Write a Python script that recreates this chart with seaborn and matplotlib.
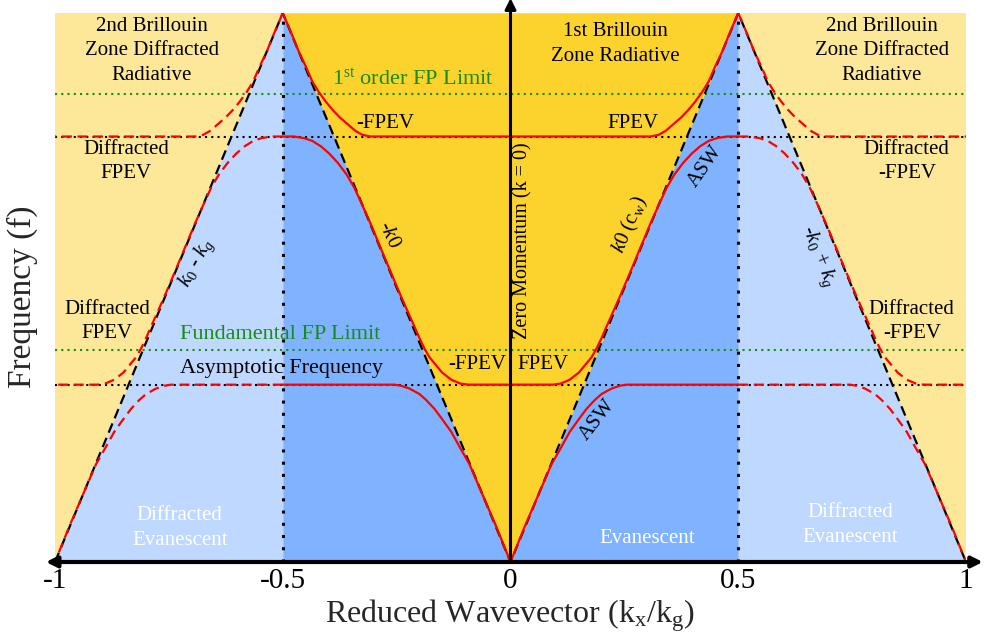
import numpy as np
import matplotlib
matplotlib.use("Agg")
import matplotlib.pyplot as plt
import seaborn as sns

# ---------------- data ----------------
zone_x = [-1.0, -0.5, 0.0, 0.5, 1.0]          # zone boundaries / light-line vertices
light_line_f = [0.0, 1.0, 0.0, 1.0, 0.0]      # light lines k0, -k0, k0-kg, -k0+kg

asymptotic_f = 0.323       # Asymptotic Frequency
fpev_upper_f = 0.775       # upper FPEV level
fundamental_fp_f = 0.387   # Fundamental FP Limit
first_order_fp_f = 0.852   # 1st order FP Limit

# bands in the half first Brillouin zone (0 <= k <= 0.5)
band1_x = [0.0, 0.031, 0.075, 0.09, 0.112, 0.13, 0.149, 0.167, 0.185, 0.2, 0.222, 0.24, 0.255, 0.5]
band1_f = [0.0, 0.064, 0.149, 0.178, 0.210, 0.237, 0.259, 0.279, 0.295, 0.306, 0.316, 0.321, 0.323, 0.323]

band2_x = [0.0, 0.093, 0.11, 0.13, 0.15, 0.167, 0.178, 0.189, 0.2, 0.211, 0.24, 0.27, 0.306,
           0.328, 0.343, 0.36, 0.379, 0.398, 0.416, 0.435, 0.453, 0.475, 0.5]
band2_f = [0.323, 0.323, 0.325, 0.332, 0.345, 0.362, 0.373, 0.389, 0.408, 0.429, 0.483, 0.542, 0.614,
           0.655, 0.682, 0.706, 0.727, 0.744, 0.757, 0.767, 0.772, 0.775, 0.775]

band3_x = [0.0, 0.307, 0.325, 0.34, 0.35, 0.361, 0.375, 0.39, 0.405, 0.42, 0.435, 0.449, 0.465, 0.478, 0.5]
band3_f = [0.775, 0.775, 0.778, 0.785, 0.792, 0.800, 0.810, 0.823, 0.838, 0.855, 0.875, 0.902, 0.930, 0.957, 1.0]

tick_values = [-1, -0.5, 0, 0.5, 1]
tick_labels = ["-1", "-0.5", "0", "0.5", "1"]

# ---------------- style ----------------
sns.set_theme(style="white")
plt.rcParams["font.family"] = ["Liberation Serif", "DejaVu Serif"]
plt.rcParams["mathtext.fontset"] = "custom"
plt.rcParams["mathtext.rm"] = "Liberation Serif"
plt.rcParams["mathtext.it"] = "Liberation Serif:italic"
plt.rcParams["mathtext.bf"] = "Liberation Serif:bold"

LIGHT_YELLOW = "#FDE799"
DARK_YELLOW = "#FCD22D"
DARK_BLUE = "#80B3FF"
LIGHT_BLUE = "#BFD8FF"
GREEN = "#178C17"
RED = "#FF0000"

fig = plt.figure(figsize=(9.85, 6.37), dpi=100)
ax = fig.add_axes([55 / 985, 75 / 637, 911 / 985, 549 / 637])
ax.set_xlim(-1, 1)
ax.set_ylim(0, 1)
for s in ax.spines.values():
    s.set_visible(False)
ax.set_yticks([])

# ---------------- regions ----------------
ax.fill_between([zone_x[0], zone_x[-1]], 0, 1, color=LIGHT_YELLOW, lw=0, zorder=0)
ax.fill_between(zone_x[1:4], light_line_f[1:4], 1, color=DARK_YELLOW, lw=0, zorder=1)
ax.fill_between(zone_x[1:4], 0, light_line_f[1:4], color=DARK_BLUE, lw=0, zorder=1)
ax.fill_between(zone_x[0:2], 0, light_line_f[0:2], color=LIGHT_BLUE, lw=0, zorder=1)
ax.fill_between(zone_x[3:5], 0, light_line_f[3:5], color=LIGHT_BLUE, lw=0, zorder=1)

# ---------------- guide lines ----------------
for lvl in (asymptotic_f, fpev_upper_f):
    ax.plot([zone_x[0], zone_x[-1]], [lvl, lvl], color="black", lw=1.5,
            linestyle=(0, (1, 2)), zorder=2)
for lvl in (fundamental_fp_f, first_order_fp_f):
    ax.plot([zone_x[0], zone_x[-1]], [lvl, lvl], color=GREEN, lw=1.5,
            linestyle=(0, (1, 2)), zorder=2)
for xv in (zone_x[1], zone_x[3]):
    ax.plot([xv, xv], [0, 1], color="black", lw=2.2, linestyle=(0, (1, 3)), zorder=2)

sns.lineplot(x=zone_x, y=light_line_f, sort=False, estimator=None, color="black",
             lw=1.6, linestyle=(0, (4.5, 2.5)), ax=ax, zorder=3)

# ---------------- bands (unfolded by symmetry) ----------------
def unfold(xs, fs):
    xs = np.asarray(xs, float)
    fs = np.asarray(fs, float)
    inner_x = np.concatenate([-xs[::-1], xs[1:]])
    inner_f = np.concatenate([fs[::-1], fs[1:]])
    right_x = 1.0 - xs[::-1]
    right_f = fs[::-1]
    return inner_x, inner_f, right_x, right_f

for bx, bf in ((band1_x, band1_f), (band2_x, band2_f), (band3_x, band3_f)):
    ix, iff, rx, rf = unfold(bx, bf)
    sns.lineplot(x=ix, y=iff, sort=False, estimator=None, color=RED, lw=1.6, ax=ax, zorder=4)
    sns.lineplot(x=rx, y=rf, sort=False, estimator=None, color=RED, lw=1.6,
                 linestyle=(0, (4.5, 2.5)), ax=ax, zorder=4)
    sns.lineplot(x=-rx, y=rf, sort=False, estimator=None, color=RED, lw=1.6,
                 linestyle=(0, (4.5, 2.5)), ax=ax, zorder=4)

# ---------------- axes arrows ----------------
ax.annotate("", xy=(1.037, 0), xytext=(-1.02, 0), annotation_clip=False,
            arrowprops=dict(arrowstyle="<|-|>", lw=3.0, color="black",
                            mutation_scale=16, shrinkA=0, shrinkB=0), zorder=6)
ax.annotate("", xy=(0, 1.027), xytext=(0, 0), annotation_clip=False,
            arrowprops=dict(arrowstyle="-|>", lw=2.2, color="black",
                            mutation_scale=16, shrinkA=0, shrinkB=0), zorder=6)

ax.set_xticks(tick_values)
ax.set_xticklabels(tick_labels)
ax.tick_params(axis="x", length=0, pad=4, labelsize=21, colors="black")

fig.text(510 / 985, 1 - 616 / 637, r"Reduced Wavevector (k$_{\mathrm{x}}$/k$_{\mathrm{g}}$)",
         ha="center", va="center", fontsize=23)
fig.text(22 / 985, 1 - 297 / 637, "Frequency (f)", rotation=90,
         ha="center", va="center", fontsize=24)

# ---------------- annotations ----------------
def lab(x, y, s, size=15, color="black", rot=0, **kw):
    ax.text(x, y, s, ha="center", va="center", fontsize=size, color=color,
            rotation=rot, rotation_mode="anchor", linespacing=1.4, zorder=7, **kw)

lab(-0.788, 0.931, "2nd Brillouin\nZone Diffracted\nRadiative")
lab(0.815, 0.931, "2nd Brillouin\nZone Diffracted\nRadiative")
lab(0.23, 0.944, "1st Brillouin\nZone Radiative")
lab(-0.214, 0.879, r"1$^{\mathrm{st}}$ order FP Limit", size=16, color=GREEN)
lab(-0.274, 0.798, "-FPEV")
lab(0.269, 0.798, "FPEV")
lab(-0.844, 0.7295, "Diffracted\nFPEV")
lab(0.870, 0.7295, "Diffracted\n-FPEV")
lab(-0.886, 0.438, "Diffracted\nFPEV")
lab(0.881, 0.438, "Diffracted\n-FPEV")
lab(-0.506, 0.4135, "Fundamental FP Limit", size=16, color=GREEN)
lab(-0.502, 0.353, "Asymptotic Frequency", size=16)
lab(-0.072, 0.359, "-FPEV")
lab(0.071, 0.359, "FPEV")
lab(0.027, 0.585, "Zero Momentum (k = 0)", size=14.5, rot=90)
lab(0.262, 0.614, r"$\mathit{k0}$ (c$_{\mathrm{w}}$)", rot=67)
lab(0.429, 0.72, "ASW", rot=55)
lab(0.192, 0.259, "ASW", rot=52)
lab(-0.267, 0.596, r"-$\mathit{k0}$", rot=-65)
lab(-0.688, 0.545, r"$k_0$ - $k_g$", rot=62)
lab(0.675, 0.557, r"-$k_0$ + $k_g$", rot=-68)
lab(-0.726, 0.062, "Diffracted\nEvanescent", color="white")
lab(0.299, 0.042, "Evanescent", color="white")
lab(0.745, 0.067, "Diffracted\nEvanescent", color="white")

fig.savefig("out.png", dpi=100, facecolor="white")
